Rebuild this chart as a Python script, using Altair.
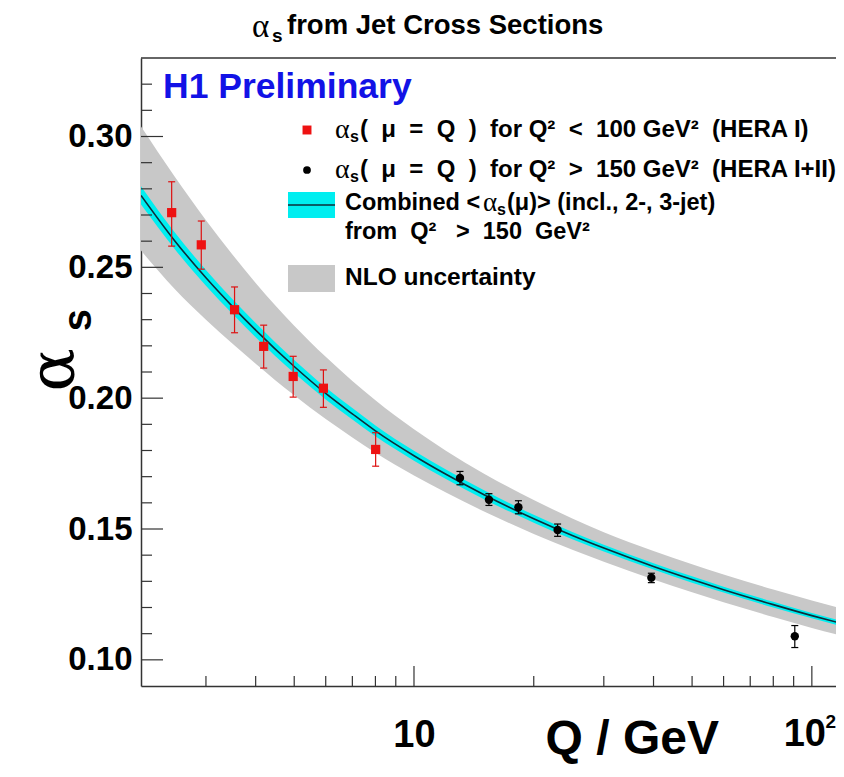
import altair as alt
import pandas as pd

# ---------------- data ----------------
# fitted curve (central value) and its bands, sampled along Q
Q_curve = [2.06, 2.5, 3.0, 3.5, 4.0, 5.0, 6.0, 7.0, 8.0, 10, 12, 15, 20, 25, 30, 40, 50, 60, 80, 100, 120]
a_mid   = [0.2775, 0.2603, 0.2460, 0.2350, 0.2260, 0.2121, 0.2018, 0.1940, 0.1875, 0.1780, 0.1710,
           0.1631, 0.1539, 0.1475, 0.1427, 0.1357, 0.1307, 0.1268, 0.1211, 0.1169, 0.1137]
# grey NLO uncertainty band
nlo_hi  = [0.3038, 0.2848, 0.2680, 0.2548, 0.2440, 0.2277, 0.2158, 0.2066, 0.1992, 0.1881, 0.1800,
           0.1711, 0.1611, 0.1540, 0.1488, 0.1416, 0.1365, 0.1326, 0.1269, 0.1227, 0.1195]
nlo_lo  = [0.2564, 0.2418, 0.2300, 0.2208, 0.2132, 0.2011, 0.1920, 0.1850, 0.1791, 0.1704, 0.1640,
           0.1567, 0.1481, 0.1421, 0.1375, 0.1307, 0.1258, 0.1220, 0.1164, 0.1122, 0.1090]
# cyan band of the combined fit
cmb_hi  = [0.2810, 0.2635, 0.2490, 0.2378, 0.2287, 0.2146, 0.2041, 0.1962, 0.1896, 0.1799, 0.1728,
           0.1648, 0.1554, 0.1489, 0.1440, 0.1369, 0.1319, 0.1279, 0.1222, 0.1179, 0.1147]
cmb_lo  = [0.2740, 0.2571, 0.2430, 0.2322, 0.2233, 0.2096, 0.1995, 0.1918, 0.1854, 0.1761, 0.1692,
           0.1614, 0.1524, 0.1461, 0.1414, 0.1345, 0.1295, 0.1257, 0.1200, 0.1159, 0.1127]

# HERA I, Q^2 < 100 GeV^2 (red squares)
Q_red    = [2.46, 2.92, 3.54, 4.19, 4.97, 5.92, 8.01]
a_red    = [0.2709, 0.2586, 0.2338, 0.2198, 0.2083, 0.2038, 0.1804]
a_red_hi = [0.2827, 0.2677, 0.2425, 0.2279, 0.2160, 0.2108, 0.1868]
a_red_lo = [0.2581, 0.2493, 0.2250, 0.2115, 0.2004, 0.1965, 0.1740]

# HERA I+II, Q^2 > 150 GeV^2 (black dots)
Q_blk    = [13.05, 15.43, 18.3, 22.96, 39.5, 90.6]
a_blk    = [0.1695, 0.1612, 0.1583, 0.1496, 0.1314, 0.1090]
a_blk_hi = [0.1720, 0.1635, 0.1608, 0.1519, 0.1331, 0.1131]
a_blk_lo = [0.1669, 0.1590, 0.1558, 0.1472, 0.1295, 0.1047]

# axis ticks
y_major = [0.10, 0.15, 0.20, 0.25, 0.30]
y_minor = [0.11, 0.12, 0.13, 0.14, 0.16, 0.17, 0.18, 0.19, 0.21, 0.22, 0.23, 0.24,
           0.26, 0.27, 0.28, 0.29, 0.31, 0.32]
x_major = [10, 100]
x_minor = [3, 4, 5, 6, 7, 8, 9, 20, 30, 40, 50, 60, 70, 80, 90]

# ---------------- chart ----------------
W, H = 695, 628
SANS = "Liberation Sans"
SERIF = "Liberation Serif"
GREEK = "DejaVu Serif"
NB = "\u00a0"

curve = pd.DataFrame({"Q": Q_curve, "a": a_mid, "g_hi": nlo_hi, "g_lo": nlo_lo,
                      "c_hi": cmb_hi, "c_lo": cmb_lo})
red = pd.DataFrame({"Q": Q_red, "a": a_red, "hi": a_red_hi, "lo": a_red_lo})
blk = pd.DataFrame({"Q": Q_blk, "a": a_blk, "hi": a_blk_hi, "lo": a_blk_lo})

xs = alt.Scale(type="log", domain=[2.06, 115])
ys = alt.Scale(domain=[0.09, 0.33])

xaxis = alt.Axis(values=[10], labelExpr="'10'", labelFont=SANS, labelFontWeight="bold",
                 labelFontSize=38, labelPadding=30, labelFlush=False, ticks=False, grid=False,
                 domainColor="#333333", domainWidth=1.5, labelColor="black", title=None)
yaxis = alt.Axis(values=y_major, format=".2f", labelFont=SANS, labelFontWeight="bold",
                 labelFontSize=33, labelPadding=9, ticks=False, grid=False,
                 domainColor="#333333", domainWidth=1.5, labelColor="black", title=None)


def X(field="Q"):
    return alt.X(f"{field}:Q", scale=xs, axis=xaxis, title=None)


def Y(field):
    return alt.Y(f"{field}:Q", scale=ys, axis=yaxis, title=None)


nlo = alt.Chart(curve).mark_area(color="#c8c8c8", interpolate="monotone", clip=True).encode(
    x=X(), y=Y("g_hi"), y2="g_lo:Q")
cmb = alt.Chart(curve).mark_area(color="#00eef0", interpolate="monotone", clip=True).encode(
    x=X(), y=Y("c_hi"), y2="c_lo:Q")
line = alt.Chart(curve).mark_line(color="#0d2c3a", strokeWidth=1.6, interpolate="monotone",
                                  clip=True).encode(x=X(), y=Y("a"))

CAP = "M-1,0L1,0"


def points(df, color, shape_mark):
    bars = alt.Chart(df).mark_rule(color=color, strokeWidth=1.2).encode(
        x=X(), y=Y("lo"), y2="hi:Q")
    cap_hi = alt.Chart(df).mark_point(shape=CAP, size=49, filled=False, color=color,
                                      strokeWidth=1.2, opacity=1).encode(x=X(), y=Y("hi"))
    cap_lo = alt.Chart(df).mark_point(shape=CAP, size=49, filled=False, color=color,
                                      strokeWidth=1.2, opacity=1).encode(x=X(), y=Y("lo"))
    return [bars, cap_hi, cap_lo, shape_mark]


red_pts = alt.Chart(red).mark_square(color="#ee1111", size=85, opacity=1).encode(x=X(), y=Y("a"))
blk_pts = alt.Chart(blk).mark_circle(color="black", size=70, opacity=1).encode(x=X(), y=Y("a"))

# inner ticks drawn through the scales
ytick_major = alt.Chart(pd.DataFrame({"v": y_major})).mark_rule(color="#333333", strokeWidth=1.2).encode(
    y=alt.Y("v:Q", scale=ys, axis=yaxis, title=None), x=alt.value(0), x2=alt.value(22))
ytick_minor = alt.Chart(pd.DataFrame({"v": y_minor})).mark_rule(color="#333333", strokeWidth=1.2).encode(
    y=alt.Y("v:Q", scale=ys, axis=yaxis, title=None), x=alt.value(0), x2=alt.value(11))
xtick_major = alt.Chart(pd.DataFrame({"v": x_major})).mark_rule(color="#333333", strokeWidth=1.2).encode(
    x=alt.X("v:Q", scale=xs, axis=xaxis, title=None), y=alt.value(H), y2=alt.value(H - 20))
xtick_minor = alt.Chart(pd.DataFrame({"v": x_minor})).mark_rule(color="#333333", strokeWidth=1.2).encode(
    x=alt.X("v:Q", scale=xs, axis=xaxis, title=None), y=alt.value(H), y2=alt.value(H - 10))

one = pd.DataFrame({"d": [0]})
top_line = alt.Chart(one).mark_rule(color="#333333", strokeWidth=1.5).encode(
    x=alt.value(0), x2=alt.value(W), y=alt.value(0))


def txt(s, x, y, size, weight="bold", font=SANS, color="black", align="left", angle=0):
    return alt.Chart(one).mark_text(text=s, font=font, fontSize=size, fontWeight=weight, color=color,
                                    align=align, baseline="middle", angle=angle).encode(
        x=alt.value(x), y=alt.value(y))


texts = [
    # title
    txt("α", 111, -31, 33, weight="normal", font=SERIF),
    txt("s", 131, -22, 19),
    txt("from Jet Cross Sections", 146, -32, 27.5),
    # y title
    txt("α", -86, 312, 64, weight="normal", font=GREEK, align="center", angle=270),
    txt("s", -62, 262, 40, align="center", angle=270),
    # x title
    txt("Q / GeV", 578, 682, 48, align="right"),
    # label 10^2
    txt("10", 685, H + 49, 38, align="right"),
    txt("2", W, H + 36, 19, align="right"),
    # H1 label
    txt("H1 Preliminary", 22, 29, 35.5, color="#1212e6"),
    # legend row 1
    txt("α", 194, 72, 28, weight="normal", font=SERIF),
    txt("s", 209, 79, 16),
    txt(f"({NB} μ {NB}={NB} Q {NB}) {NB}for Q² {NB}< {NB}100 GeV² {NB}(HERA I)", 219, 72, 24),
    # legend row 2
    txt("α", 194, 112, 28, weight="normal", font=SERIF),
    txt("s", 209, 119, 16),
    txt(f"({NB} μ {NB}={NB} Q {NB}) {NB}for Q² {NB}> {NB}150 GeV² {NB}(HERA I+II)", 219, 112, 24),
    # legend row 3
    txt("Combined <", 204, 145, 23.5),
    txt("α", 342, 145, 27, weight="normal", font=SERIF),
    txt("s", 356, 152, 16),
    txt("(μ)> (incl., 2-, 3-jet)", 366, 145, 23.5),
    txt(f"from{NB} Q²{NB}{NB} >{NB} 150{NB} GeV²", 204, 174, 23.5),
    # legend row 4
    txt("NLO uncertainty", 204, 220, 24.5),
]

leg_sq = alt.Chart(one).mark_square(color="#ee1111", size=80, opacity=1).encode(
    x=alt.value(166), y=alt.value(72))
leg_dot = alt.Chart(one).mark_circle(color="black", size=60, opacity=1).encode(
    x=alt.value(166), y=alt.value(112))
leg_cyan = alt.Chart(one).mark_rect(color="#00eef0").encode(
    x=alt.value(147), x2=alt.value(194), y=alt.value(134), y2=alt.value(160))
leg_line = alt.Chart(one).mark_rule(color="#0d2c3a", strokeWidth=1.6).encode(
    x=alt.value(147), x2=alt.value(194), y=alt.value(147))
leg_gray = alt.Chart(one).mark_rect(color="#c8c8c8").encode(
    x=alt.value(147), x2=alt.value(194), y=alt.value(207), y2=alt.value(234))

layers = [nlo, cmb, line]
layers += points(red, "#dd1111", red_pts)
layers += points(blk, "black", blk_pts)
layers += [ytick_major, ytick_minor, xtick_major, xtick_minor, top_line,
           leg_gray, leg_cyan, leg_line, leg_sq, leg_dot]
layers += texts

chart = alt.layer(*layers).properties(
    width=W, height=H,
    autosize=alt.AutoSizeParams(type="none"),
    padding={"left": 133, "top": 50, "right": 0, "bottom": 80},
).configure_view(stroke=None)

chart.save("out.html", embed_options={"renderer": "svg", "actions": False})
